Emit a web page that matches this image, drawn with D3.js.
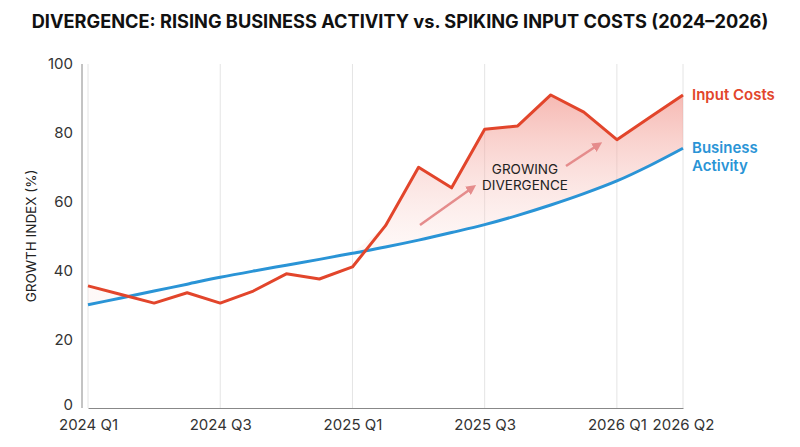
<!DOCTYPE html>
<html><head><meta charset="utf-8">
<script src="https://cdn.jsdelivr.net/npm/d3@7"></script>
<style>body{margin:0;background:#fff;font-family:Inter,"Noto Sans",sans-serif}</style>
</head><body><svg id="chart" width="800" height="447"></svg>
<script>
// half-quarter steps from 2024 Q1 to 2026 Q2
const steps = d3.range(19).map(i => i / 2);
const inputCosts = [35.5, 33, 30.5, 33.5, 30.5, 34, 39, 37.5, 41, 53, 70, 64, 81, 82, 91, 86, 78, 84.5, 91];
const business = [30, 32, 34, 36, 38, 39.8, 41.5, 43.2, 45, 46.8, 48.8, 51, 53.3, 56, 59, 62.3, 66, 70.5, 75.5];
const tickPos = [0, 2, 4, 6, 8, 9];
const tickLabels = ["2024 Q1", "2024 Q3", "2025 Q1", "2025 Q3", "2026 Q1", "2026 Q2"];
const yTicks = [0, 20, 40, 60, 80, 100];

const svg = d3.select("#chart");
const x = d3.scaleLinear().domain([0, 9]).range([88, 683]);
const y = d3.scaleLinear().domain([0, 100]).range([408, 64]);

svg.append("text").attr("x", 400).attr("y", 28).attr("text-anchor", "middle")
  .attr("font-size", 18.2).attr("font-weight", 700).attr("fill", "#111")
  .text("DIVERGENCE: RISING BUSINESS ACTIVITY vs. SPIKING INPUT COSTS (2024\u20132026)");

// vertical grid
svg.append("g").selectAll("line").data(tickPos).join("line")
  .attr("x1", d => x(d)).attr("x2", d => x(d)).attr("y1", y(100)).attr("y2", y(0))
  .attr("stroke", "#e4e4e4");

const defs = svg.append("defs");
const grad = defs.append("linearGradient").attr("id", "fillg").attr("x1", 0).attr("x2", 0)
  .attr("gradientUnits", "userSpaceOnUse").attr("y1", y(91)).attr("y2", y(45));
grad.append("stop").attr("offset", 0).attr("stop-color", "#f08a80").attr("stop-opacity", 0.6);
grad.append("stop").attr("offset", 1).attr("stop-color", "#fbe0dc").attr("stop-opacity", 0.2);

const area = d3.area().x((d, i) => x(steps[i]))
  .y0((d, i) => y(business[i])).y1((d, i) => y(Math.max(inputCosts[i], business[i])));
svg.append("path").datum(inputCosts).attr("d", area).attr("fill", "url(#fillg)");

const line = d3.line().x((d, i) => x(steps[i])).y(d => y(d));
svg.append("path").datum(business).attr("d", line.curve(d3.curveMonotoneX)).attr("fill", "none")
  .attr("stroke", "#2a94d6").attr("stroke-width", 3);
svg.append("path").datum(inputCosts).attr("d", d3.line().x((d, i) => x(steps[i])).y(d => y(d)))
  .attr("fill", "none").attr("stroke", "#e2452b").attr("stroke-width", 3).attr("stroke-linejoin", "round");

// axes
const ya = svg.append("g").attr("transform", `translate(${x(0) - 9},0)`)
  .call(d3.axisLeft(y).tickValues(yTicks).tickSize(0).tickPadding(6));
ya.select(".domain").remove();
ya.selectAll("text").attr("font-size", 15).attr("fill", "#333").attr("font-family", "Inter,sans-serif");
ya.selectAll(".tick").filter(d => d === 0).select("text").attr("dy", "0.1em");
svg.append("line").attr("x1", x(0) - 6).attr("x2", x(0) - 6).attr("y1", y(100)).attr("y2", y(0)).attr("stroke", "#888");
const xa = svg.append("g").attr("transform", `translate(0,${y(0)})`)
  .call(d3.axisBottom(x).tickValues(tickPos).tickFormat((d, i) => tickLabels[i]).tickSize(0).tickPadding(11));
xa.select(".domain").attr("stroke", "#888");
xa.selectAll("text").attr("font-size", 15).attr("fill", "#333").attr("font-family", "Inter,sans-serif");

svg.append("text").attr("transform", "translate(36,236) rotate(-90)").attr("text-anchor", "middle")
  .attr("font-size", 13.5).attr("fill", "#222").text("GROWTH INDEX (%)");

svg.append("text").attr("x", 692).attr("y", 100).attr("font-size", 15).attr("font-weight", 600)
  .attr("fill", "#e2452b").text("Input Costs");
svg.append("text").attr("x", 692).attr("y", 153).attr("font-size", 15).attr("font-weight", 600)
  .attr("fill", "#2a94d6").selectAll("tspan").data(["Business", "Activity"]).join("tspan")
  .attr("x", 692).attr("dy", (d, i) => i ? 18 : 0).text(d => d);

// annotation
defs.append("marker").attr("id", "ah").attr("viewBox", "0 0 10 10").attr("refX", 5).attr("refY", 5)
  .attr("markerWidth", 4).attr("markerHeight", 4).attr("orient", "auto")
  .append("path").attr("d", "M0,0L10,5L0,10z").attr("fill", "#e58c8c");
[[420, 225, 472, 188], [566, 166, 598, 145]].forEach(a => {
  svg.append("line").attr("x1", a[0]).attr("y1", a[1]).attr("x2", a[2]).attr("y2", a[3])
    .attr("stroke", "#e58c8c").attr("stroke-width", 2.5).attr("marker-end", "url(#ah)");
});
svg.append("text").attr("x", 525).attr("y", 174).attr("text-anchor", "middle").attr("font-size", 13.5)
  .attr("fill", "#222").selectAll("tspan").data(["GROWING", "DIVERGENCE"]).join("tspan")
  .attr("x", 525).attr("dy", (d, i) => i ? 16 : 0).text(d => d);
</script></body></html>
